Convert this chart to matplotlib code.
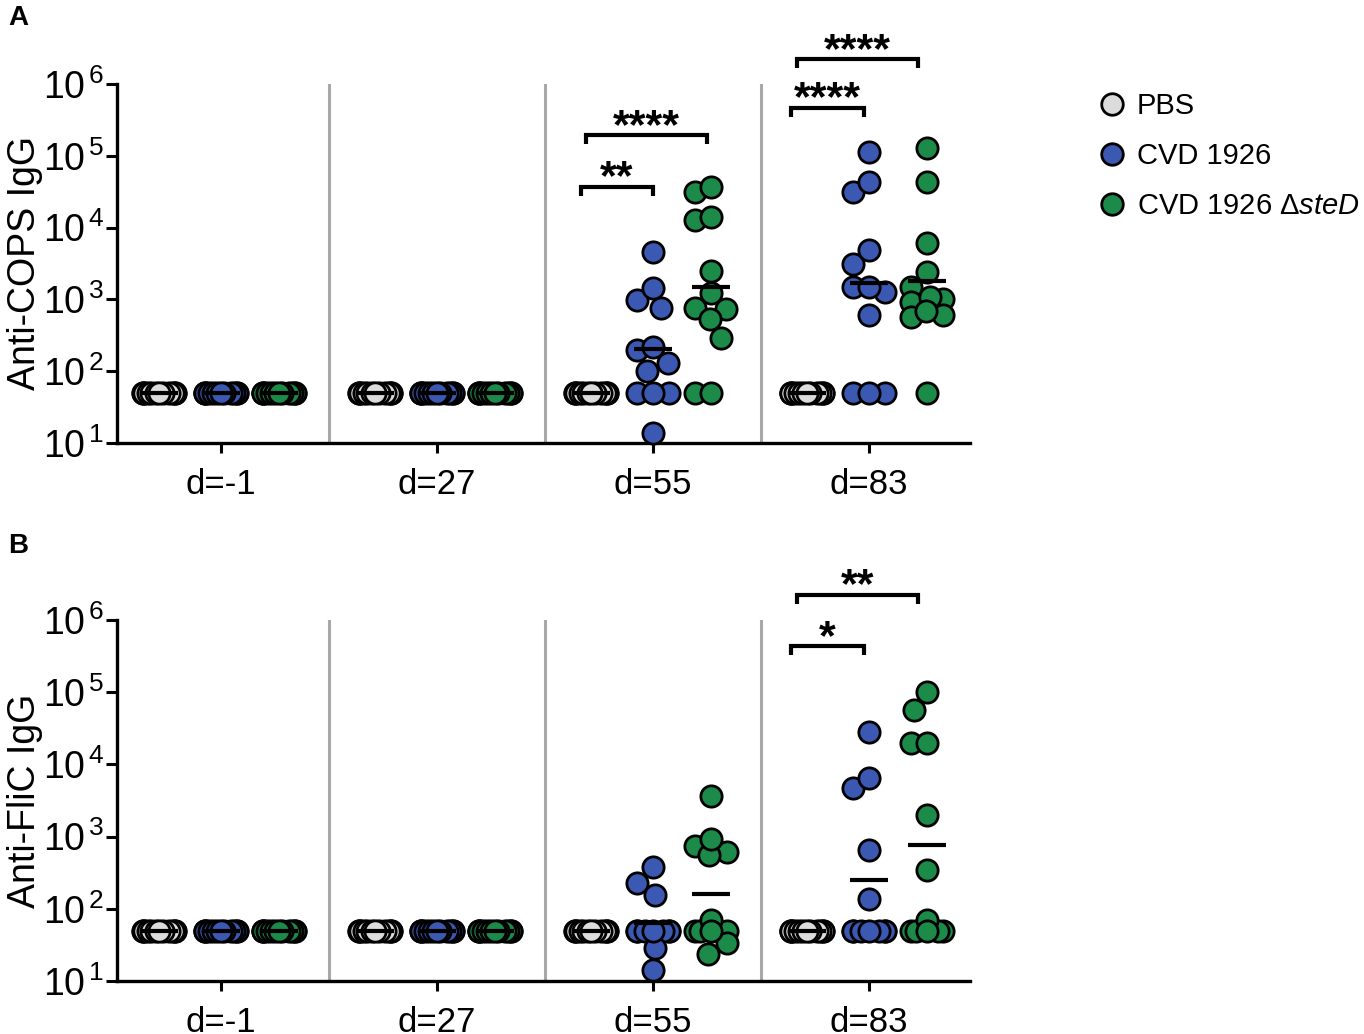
import numpy as np
import matplotlib
matplotlib.use("Agg")
import matplotlib.pyplot as plt
from matplotlib.lines import Line2D
from matplotlib.ticker import FixedLocator, FixedFormatter, LogLocator, NullFormatter

plt.rcParams['font.family'] = ['Liberation Sans', 'DejaVu Sans']
plt.rcParams['mathtext.fontset'] = 'custom'
plt.rcParams['mathtext.rm'] = 'Liberation Sans'
plt.rcParams['mathtext.it'] = 'Liberation Sans:italic'
plt.rcParams['mathtext.bf'] = 'Liberation Sans:bold'

# ---------------- data ----------------
days = ["d=-1", "d=27", "d=55", "d=83"]
groups = ["PBS", "CVD 1926", "CVD 1926 \u0394$\\it{steD}$"]
colors = ["#dcdcdc", "#3b58b2", "#1c8a48"]

base = [50] * 12

# Anti-COPS IgG  [day][group]
cops = [
    [base, base, base],
    [base, base, base],
    [base,
     [4570, 1450, 980, 760, 218, 200, 130, 100, 50, 50, 50, 14],
     [37000, 31600, 14000, 12600, 2500, 1230, 760, 740, 540, 290, 50, 50]],
    [base,
     [112000, 43000, 31600, 4900, 3100, 1480, 1480, 1260, 610, 50, 50, 50],
     [130000, 43000, 6200, 2400, 1480, 1070, 1000, 910, 700, 600, 560, 50]],
]

# Anti-FliC IgG  [day][group]
flic = [
    [base, base, base],
    [base, base, base],
    [base,
     [380, 230, 155, 50, 50, 50, 50, 50, 50, 50, 29, 14],
     [3600, 930, 740, 610, 560, 70, 50, 50, 50, 50, 34, 24]],
    [base,
     [28000, 6500, 4700, 650, 137, 50, 50, 50, 50, 50, 50, 50],
     [100000, 56000, 20000, 20000, 2000, 350, 70, 50, 50, 50, 50, 50]],
]

# significance annotations: (x_left, x_right, log10 height, label)
cops_sig = [(1.67, 2.0, 4.57, "**"), (1.69, 2.25, 5.29, "****"),
            (2.64, 2.98, 5.67, "****"), (2.67, 3.23, 6.35, "****")]
flic_sig = [(2.64, 2.98, 5.64, "*"), (2.67, 3.23, 6.35, "**")]

# ---------------- layout ----------------
W, H, DPI = 13.64, 10.34, 100
fig = plt.figure(figsize=(W, H), dpi=DPI)
axA = fig.add_axes([117 / 1364, 1 - 443 / 1034, 853 / 1364, 359 / 1034])
axB = fig.add_axes([117 / 1364, 1 - 981 / 1034, 853 / 1364, 361 / 1034])

XLIM = (-0.48, 3.47)
GROUP_OFF = [-0.285, 0.0, 0.27]
DIAM_PX = 22.0
WMAX_PX = 16.0


def swarm(vals, ppd):
    y = np.log10(np.asarray(vals, float)) * ppd
    order = np.argsort(-y, kind="stable")
    cands = np.arange(-WMAX_PX, WMAX_PX + 0.01, 0.5)
    offs = np.zeros(len(y))
    placed = []
    for i in order:
        if placed:
            P = np.array(placed)
            dist = np.hypot(cands[:, None] - P[None, :, 0], y[i] - P[None, :, 1])
            cost = (np.clip(DIAM_PX - dist, 0, None) ** 2).sum(axis=1) + 0.05 * np.abs(cands)
            off = cands[np.argmin(cost)]
        else:
            off = 0.0
        offs[i] = off
        placed.append((off, y[i]))
    return offs


def panel(ax, data, ylabel, sig):
    ax.set_yscale("log")
    ax.set_ylim(10, 1e6)
    ax.set_xlim(*XLIM)
    bbox = ax.get_position()
    ppu = bbox.width * W * DPI / (XLIM[1] - XLIM[0])
    ppd = bbox.height * H * DPI / 5.0
    for sep in [0.5, 1.5, 2.5]:
        ax.axvline(sep, color="#a8a8a8", lw=2.2, zorder=1)
    for d, day in enumerate(data):
        for g, vals in enumerate(day):
            xc = d + GROUP_OFF[g]
            v = np.asarray(vals, float)
            offs = swarm(v, ppd)
            draw = np.argsort(-np.abs(offs), kind="stable")
            ax.scatter(xc + offs[draw] / ppu, v[draw], s=235, facecolor=colors[g],
                       edgecolor="black", linewidth=2.0, zorder=3, clip_on=False)
            gm = 10 ** np.mean(np.log10(v))
            ax.hlines(gm, xc - 0.088, xc + 0.088, color="black", lw=3.0, zorder=4)
    for x1, x2, ly, lab in sig:
        ytop = 10 ** ly
        yleg = 10 ** (ly - 0.13)
        ax.plot([x1, x1, x2, x2], [yleg, ytop, ytop, yleg], color="black", lw=3.0,
                solid_capstyle="butt", solid_joinstyle="miter", clip_on=False, zorder=5)
        ax.annotate(lab, xy=((x1 + x2) / 2, ytop), xytext=(0, -2), textcoords="offset points",
                    ha="center", va="baseline", fontsize=31, fontweight="bold",
                    annotation_clip=False)
    for s in ["top", "right"]:
        ax.spines[s].set_visible(False)
    for s in ["left", "bottom"]:
        ax.spines[s].set_linewidth(2.4)
    ax.set_xticks(range(len(days)))
    ax.set_xticklabels(days, fontsize=25)
    ax.tick_params(axis="x", length=7, width=2.2, pad=11)
    ax.yaxis.set_major_locator(FixedLocator([10 ** k for k in range(1, 7)]))
    ax.yaxis.set_major_formatter(FixedFormatter(
        [r"$\mathregular{10^{\,%d}}$" % k for k in range(1, 7)]))
    ax.yaxis.set_minor_locator(LogLocator(base=10, subs=np.arange(2, 10)))
    ax.yaxis.set_minor_formatter(NullFormatter())
    ax.tick_params(axis="y", which="major", length=8, width=2.2, pad=1, labelsize=27)
    ax.tick_params(axis="y", which="minor", length=4, width=1.5)
    ax.set_ylabel(ylabel, fontsize=27)
    ax.yaxis.set_label_coords(-0.087, 0.5)


panel(axA, cops, "Anti-COPS IgG", cops_sig)
panel(axB, flic, "Anti-FliC IgG", flic_sig)

fig.text(8 / 1364, 1 - 5 / 1034, "A", fontsize=20, fontweight="bold", va="top", ha="left")
fig.text(8 / 1364, 1 - 533 / 1034, "B", fontsize=20, fontweight="bold", va="top", ha="left")

handles = [Line2D([], [], ls="", marker="o", ms=15.5, mfc=c, mec="black", mew=2.0) for c in colors]
fig.legend(handles, groups, loc="upper left", bbox_to_anchor=(1099 / 1364, 1 - 92 / 1034),
           frameon=False, fontsize=21, handlelength=0.9, handletextpad=0.4,
           labelspacing=0.76, borderaxespad=0, borderpad=0)

fig.savefig("out.png", dpi=DPI)
